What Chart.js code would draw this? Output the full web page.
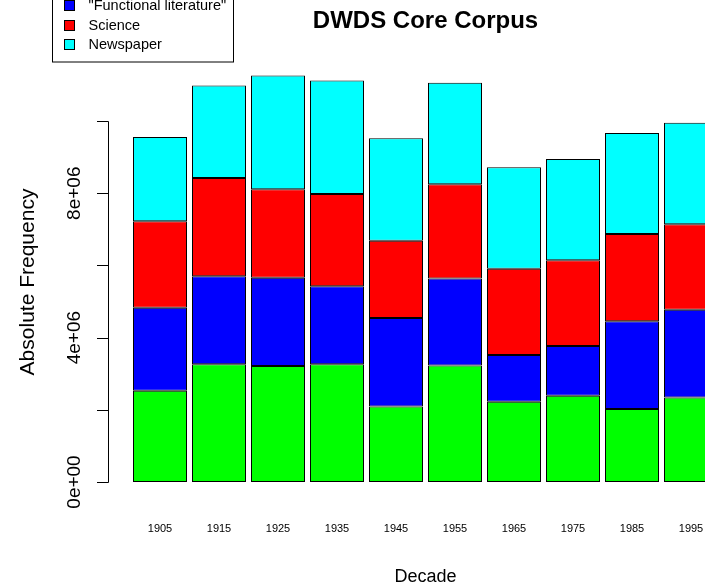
<!DOCTYPE html>
<html>
<head>
<meta charset="UTF-8">
<title>DWDS Core Corpus</title>
<script src="https://cdn.jsdelivr.net/npm/chart.js"></script>
<style>
    html, body { margin: 0; padding: 0; overflow: hidden; background: #fff; }
    #box { position: absolute; left: 0; top: 0; width: 724px; height: 588px; }
    #myChart { display: block; }
</style>
</head>
<body>
<div id="box"><canvas id="myChart" width="724" height="588"></canvas></div>
<script>
    const decades = ['1905', '1915', '1925', '1935', '1945', '1955', '1965', '1975', '1985', '1995'];
    const fiction    = [2.53e6, 3.26e6, 3.21e6, 3.26e6, 2.09e6, 3.23e6, 2.22e6, 2.39e6, 2.02e6, 2.34e6];
    const functional = [2.30e6, 2.44e6, 2.45e6, 2.16e6, 2.45e6, 2.41e6, 1.30e6, 1.38e6, 2.43e6, 2.43e6];
    const science    = [2.39e6, 2.72e6, 2.45e6, 2.56e6, 2.14e6, 2.61e6, 2.39e6, 2.37e6, 2.42e6, 2.37e6];
    const newspaper  = [2.34e6, 2.56e6, 3.15e6, 3.14e6, 2.84e6, 2.81e6, 2.81e6, 2.81e6, 2.80e6, 2.81e6];
    const yTicks      = [0, 2e6, 4e6, 6e6, 8e6, 1e7];
    const yTickLabels = ['0e+00', '', '4e+06', '', '8e+06', ''];

    const FONT = '"Liberation Sans", Arial, sans-serif';

    // R style y axis + legend box, drawn after the bars
    const rExtras = {
        id: 'rExtras',
        afterDraw(chart) {
            const ctx = chart.ctx;
            const y = chart.scales.y;
            ctx.save();
            ctx.strokeStyle = '#000';
            ctx.fillStyle = '#000';
            ctx.lineWidth = 1;

            // axis line + ticks
            const ax = 108.5;
            ctx.beginPath();
            ctx.moveTo(ax, Math.round(y.getPixelForValue(yTicks[0])) + 0.5);
            ctx.lineTo(ax, Math.round(y.getPixelForValue(yTicks[yTicks.length - 1])) + 0.5);
            yTicks.forEach(v => {
                const py = Math.round(y.getPixelForValue(v)) + 0.5;
                ctx.moveTo(ax, py);
                ctx.lineTo(97, py);
            });
            ctx.stroke();

            // tick labels, parallel to the axis
            ctx.font = '19px ' + FONT;
            ctx.textAlign = 'center';
            ctx.textBaseline = 'alphabetic';
            yTicks.forEach((v, i) => {
                if (!yTickLabels[i]) return;
                ctx.save();
                ctx.translate(80, y.getPixelForValue(v));
                ctx.rotate(-Math.PI / 2);
                ctx.fillText(yTickLabels[i], 0, 0);
                ctx.restore();
            });

            // y title
            ctx.save();
            ctx.font = '21px ' + FONT;
            ctx.translate(34, 282);
            ctx.rotate(-Math.PI / 2);
            ctx.fillText('Absolute Frequency', 0, 0);
            ctx.restore();

            // legend (top is cut off like in the original)
            const ds = chart.data.datasets;
            ctx.fillStyle = '#fff';
            ctx.fillRect(52.5, -30, 181, 92);
            ctx.strokeRect(52.5, -30, 181, 92);
            ctx.font = '14.5px ' + FONT;
            ctx.textAlign = 'left';
            ctx.textBaseline = 'middle';
            ds.forEach((d, i) => {
                const cy = 43.8 - (ds.length - 1 - i) * 19.2;
                ctx.fillStyle = d.backgroundColor;
                ctx.fillRect(64.5, Math.round(cy) - 4.5, 10, 10);
                ctx.strokeRect(64.5, Math.round(cy) - 4.5, 10, 10);
                ctx.fillStyle = '#000';
                ctx.fillText(d.label, 88.5, cy + 1);
            });
            ctx.restore();
        }
    };

    function makeSet(label, data, color) {
        return {
            label: label,
            data: data,
            backgroundColor: color,
            borderColor: '#000',
            borderWidth: 1,
            borderSkipped: false,
            barPercentage: 0.915,
            categoryPercentage: 1.0
        };
    }

    const ctx = document.getElementById('myChart').getContext('2d');
    // canvas is wider than the window: the last bar gets cut off like in the original
    const myChart = new Chart(ctx, {
        type: 'bar',
        data: {
            labels: decades,
            datasets: [
                makeSet('Fiction', fiction, '#00ff00'),
                makeSet('"Functional literature"', functional, '#0000ff'),
                makeSet('Science', science, '#ff0000'),
                makeSet('Newspaper', newspaper, '#00ffff')
            ]
        },
        options: {
            responsive: false,
            animation: false,
            devicePixelRatio: 1,
            layout: { padding: { left: 130.5, right: 3.5, top: 0, bottom: 0 } },
            plugins: {
                legend: { display: false },
                tooltip: { enabled: false },
                title: {
                    display: true,
                    text: 'DWDS Core Corpus',
                    color: '#000',
                    font: { family: FONT, size: 24, weight: 'bold', lineHeight: 1.2 },
                    padding: { top: 7, bottom: 13 }
                }
            },
            scales: {
                x: {
                    stacked: true,
                    grid: { display: false, drawTicks: false },
                    border: { display: false },
                    ticks: {
                        color: '#000',
                        font: { family: FONT, size: 11 },
                        padding: 40,
                        autoSkip: false,
                        maxRotation: 0
                    },
                    title: {
                        display: true,
                        text: 'Decade',
                        color: '#000',
                        font: { family: FONT, size: 18, lineHeight: 1.2 },
                        padding: { top: 0, bottom: 0 }
                    },
                    afterFit: s => {
                        s.height = 106;
                        // tick padding would otherwise eat into the sides
                        s.paddingLeft = 0;
                        s.paddingRight = 0;
                    }
                },
                y: {
                    stacked: true,
                    display: false,
                    min: 0,
                    max: 1.2e7
                }
            }
        },
        plugins: [rExtras]
    });
</script>
</body>
</html>
